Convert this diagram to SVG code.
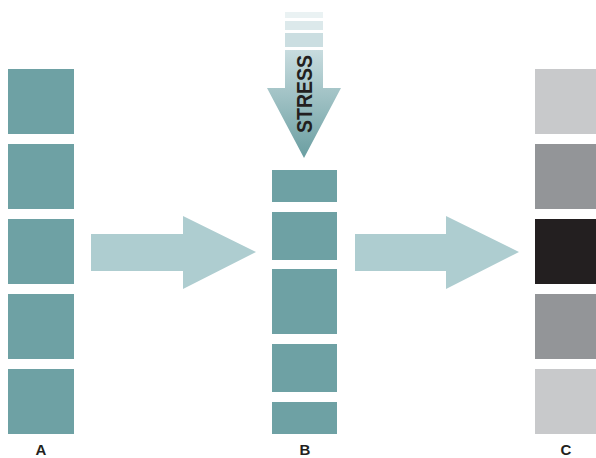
<svg xmlns="http://www.w3.org/2000/svg" width="596" height="458" viewBox="0 0 596 458">
<defs>
<linearGradient id="sg" x1="0" y1="50" x2="0" y2="158" gradientUnits="userSpaceOnUse">
<stop offset="0" stop-color="#c8dcdf"/>
<stop offset="1" stop-color="#6a9ea1"/>
</linearGradient>
<style>
.t{fill:#6ea1a4}
.c1{fill:#c8c9cb}
.c2{fill:#939598}
.c3{fill:#231f20}
.ar{fill:#aecdd0}
.lbl{font-family:"Liberation Sans",Arial,sans-serif;font-size:15px;font-weight:bold;fill:#231f20;text-anchor:middle}
</style>
</defs>
<rect width="596" height="458" fill="#fff"/>
<g id="colA">
<rect class="t" x="8" y="69" width="66" height="65"/>
<rect class="t" x="8" y="144" width="66" height="65"/>
<rect class="t" x="8" y="219" width="66" height="65"/>
<rect class="t" x="8" y="294" width="66" height="65"/>
<rect class="t" x="8" y="369" width="66" height="65"/>
<text class="lbl" x="41" y="455">A</text>
</g>
<g id="colB">
<rect class="t" x="272" y="170" width="65" height="32"/>
<rect class="t" x="272" y="212" width="65" height="48"/>
<rect class="t" x="272" y="269" width="65" height="65"/>
<rect class="t" x="272" y="344" width="65" height="48"/>
<rect class="t" x="272" y="402" width="65" height="32"/>
<text class="lbl" x="305" y="455">B</text>
</g>
<g id="colC">
<rect class="c1" x="535" y="69" width="61" height="65"/>
<rect class="c2" x="535" y="144" width="61" height="65"/>
<rect class="c3" x="535" y="219" width="61" height="65"/>
<rect class="c2" x="535" y="294" width="61" height="65"/>
<rect class="c1" x="535" y="369" width="61" height="65"/>
<text class="lbl" x="566" y="455">C</text>
</g>
<g id="stress">
<rect x="285" y="12" width="38" height="6" fill="#eaf2f3"/>
<rect x="285" y="21" width="38" height="9" fill="#dce9eb"/>
<rect x="285" y="33" width="38" height="14" fill="#cbdee1"/>
<polygon points="285,50 323,50 323,88 341,88 304,158 267,88 285,88" fill="url(#sg)"/>
<text x="0" y="0" transform="translate(312,94) rotate(-90)" font-family="Liberation Sans,Arial,sans-serif" font-size="22" font-weight="bold" fill="#231f20" text-anchor="middle" textLength="78" lengthAdjust="spacingAndGlyphs">STRESS</text>
</g>
<g id="connectors">
<polygon class="ar" points="91,234 183,234 183,216 256,252 183,289 183,271 91,271"/>
<polygon class="ar" points="355,234 446,234 446,216 519,252 446,289 446,271 355,271"/>
</g>
</svg>
